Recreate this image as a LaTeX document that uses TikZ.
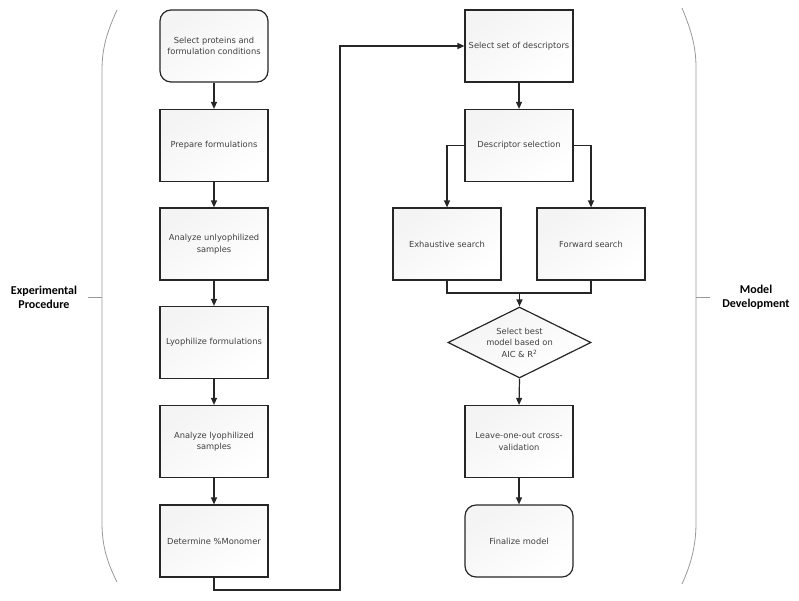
\documentclass[tikz,border=0pt]{standalone}
\usepackage{fontspec}
\setmainfont{DejaVu Sans}
\newfontfamily\labfont{Carlito}
\usetikzlibrary{shapes.geometric,arrows.meta,calc}
\definecolor{txt}{HTML}{404040}
\tikzset{
  boxbase/.style={draw=black!85, line width=1.2pt, minimum width=108pt, minimum height=72pt,
    align=center, text=txt, font=\fontsize{8.3}{11.5}\selectfont, inner sep=2pt,
    top color=gray!9, bottom color=white, shading angle=35},
  stepbox/.style={boxbase},
  roundbox/.style={boxbase, rounded corners=11pt},
  decision/.style={boxbase, diamond, aspect=2, minimum width=143pt, minimum height=71pt, inner sep=0pt},
  conn/.style={draw=black!85, line width=1.2pt},
  arr/.style={conn, -{Triangle[length=7pt,width=6pt]}},
  brace/.style={draw=gray!80, line width=0.8pt},
  grp/.style={font=\labfont\bfseries\fontsize{12}{14}\selectfont, align=center, text=black}
}
\begin{document}
\begin{tikzpicture}[x=1pt,y=-1pt]
\useasboundingbox (0,0) rectangle (799,600);
% left column
\node[roundbox] (b1) at (214,46) {Select proteins and\\formulation conditions};
\node[stepbox] (b2) at (214,145.5) {Prepare formulations};
\node[stepbox] (b3) at (214,244) {Analyze unlyophilized\\samples};
\node[stepbox] (b4) at (214,342.5) {Lyophilize formulations};
\node[stepbox] (b5) at (214,441.5) {Analyze lyophilized\\samples};
\node[stepbox] (b6) at (214,541) {Determine \%Monomer};
% right column
\node[stepbox] (r1) at (519,46) {Select set of descriptors};
\node[stepbox] (r2) at (519,145.5) {Descriptor selection};
\node[stepbox] (ex) at (447,244) {Exhaustive search};
\node[stepbox] (fw) at (591,244) {Forward search};
\node[decision] (dia) at (519.5,342.5) {Select best\\model based on\\AIC \& R\textsuperscript{2}};
\node[stepbox] (loo) at (519,441.5) {Leave-one-out cross-\\validation};
\node[roundbox] (fin) at (519,541) {Finalize model};
% connectors
\draw[arr] (b1) -- (b2);
\draw[arr] (b2) -- (b3);
\draw[arr] (b3) -- (b4);
\draw[arr] (b4) -- (b5);
\draw[arr] (b5) -- (b6);
\coordinate (c1) at (340,590);
\draw[arr] (b6.south) |- (c1) |- (r1.west);
\draw[arr] (r1) -- (r2);
\draw[arr] (r2.west) -| (ex.north);
\draw[arr] (r2.east) -| (fw.north);
\coordinate (m) at (519.5,293);
\draw[conn] (ex.south) |- (m) -| (fw.south);
\draw[arr] (m) -- (dia.north);
\draw[arr] (dia.south) -- (loo.north);
\draw[arr] (loo) -- (fin);
% braces
\draw[brace] (117,10) .. controls (106,34) and (102,50) .. (102,70) -- (102,522) .. controls (102,544) and (106,560) .. (117,582);
\coordinate (lt) at (102,297);
\node[grp] (lg) at (44,297) {Experimental\\Procedure};
\draw[brace] (lt) -- ++(-14,0);
\draw[brace] (682,8) .. controls (692,32) and (696,48) .. (696,68) -- (696,522) .. controls (696,544) and (692,562) .. (682,584);
\coordinate (rt) at (696,297);
\node[grp] (rg) at (756,297) {Model\\Development};
\draw[brace] (rt) -- ++(14,0);
\end{tikzpicture}
\end{document}
